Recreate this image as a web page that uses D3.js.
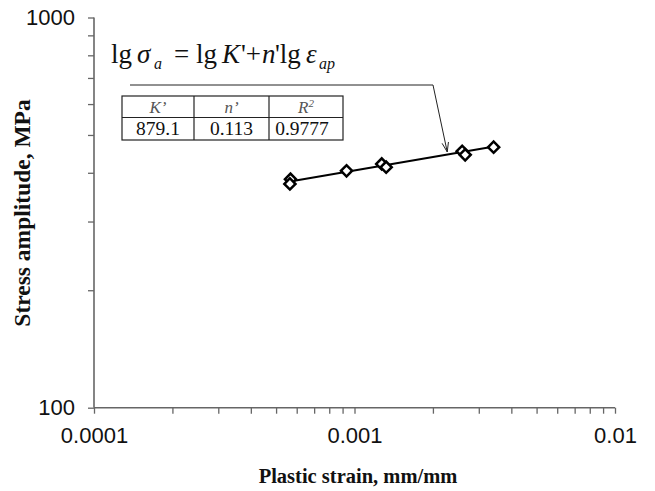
<!DOCTYPE html>
<html>
<head>
<meta charset="utf-8">
<script src="https://cdn.jsdelivr.net/npm/d3@7"></script>
<style>
  html, body { margin: 0; padding: 0; background: #fff; }
  svg { display: block; }
</style>
</head>
<body>
<svg id="chart" width="655" height="491"></svg>
<script>
// ---- data ----
const strain = [0.000568, 0.000565, 0.000932, 0.001272, 0.001323, 0.00259, 0.00266, 0.00342];
const stress = [385.1, 374.6, 404.6, 421.4, 413.4, 453.9, 444.6, 465.3];
const fitStrain = [0.00058, 0.00344];
const fitStress = [381.3, 466.9];
const xMajorTicks = [0.0001, 0.001, 0.01];
const xTickLabels = ["0.0001", "0.001", "0.01"];
const yMajorTicks = [100, 1000];
const yTickLabels = ["100", "1000"];
const tableHeader = ["K\u2019", "n\u2019", "R2"];
const tableValues = ["879.1", "0.113", "0.9777"];
const arrowTarget = [0.00227, 452.4];

const svg = d3.select("#chart");
const x = d3.scaleLog().domain([0.0001, 0.01]).range([94, 615]);
const y = d3.scaleLog().domain([100, 1000]).range([407.7, 17.5]);

// all ticks (major + minor)
const xTicks = [];
[0.0001, 0.001].forEach(d => { for (let k = 1; k < 10; k++) xTicks.push(d * k); });
xTicks.push(0.01);
const yTicks = d3.range(1, 11).map(k => k * 100);

const axisColor = "#666";
const xAxis = d3.axisBottom(x).tickValues(xTicks).tickSize(6).tickPadding(14)
  .tickFormat(d => { const i = xMajorTicks.findIndex(v => Math.abs(v - d) / v < 1e-9); return i >= 0 ? xTickLabels[i] : ""; });
const yAxis = d3.axisLeft(y).tickValues(yTicks).tickSize(6).tickPadding(13)
  .tickFormat(d => { const i = yMajorTicks.indexOf(Math.round(d)); return i >= 0 ? yTickLabels[i] : ""; });

const gx = svg.append("g").attr("transform", `translate(0,${y(100)})`).call(xAxis);
const gy = svg.append("g").attr("transform", `translate(${x(0.0001)},0)`).call(yAxis);
[gx, gy].forEach(g => {
  g.select(".domain").attr("stroke", axisColor).attr("stroke-width", 1.6);
  g.selectAll(".tick line").attr("stroke", axisColor).attr("stroke-width", 1.3);
  g.selectAll(".tick text").attr("fill", "#111").attr("font-size", null)
    .style("font-family", "'Liberation Sans', Arial, sans-serif").style("font-size", "22px");
});
gx.attr("font-size", null); gy.attr("font-size", null);
gx.select(".domain").attr("d", `M${x(0.0001)},0H${x(0.01)}`);
gy.select(".domain").attr("d", `M0,${y(1000)}V${y(100)}`);

// axis titles
svg.append("text").attr("x", 358).attr("y", 483).attr("text-anchor", "middle")
  .style("font-family", "'Liberation Serif', 'Times New Roman', serif").style("font-size", "20.5px").style("font-weight", "bold").attr("fill", "#111")
  .text("Plastic strain, mm/mm");
svg.append("text").attr("transform", "translate(30,213) rotate(-90)").attr("text-anchor", "middle")
  .style("font-family", "'Liberation Serif', 'Times New Roman', serif").style("font-size", "23.5px").style("font-weight", "bold").attr("fill", "#111")
  .text("Stress amplitude, MPa");

// fit line
const line = d3.line().x(d => x(d[0])).y(d => y(d[1]));
svg.append("path").datum(fitStrain.map((s, i) => [s, fitStress[i]]))
  .attr("d", line).attr("fill", "none").attr("stroke", "#000").attr("stroke-width", 2);

// markers
const sym = d3.symbol().type(d3.symbolSquare).size(62);
svg.append("g").selectAll("path").data(strain.map((s, i) => [s, stress[i]])).join("path")
  .attr("d", sym)
  .attr("transform", d => `translate(${x(d[0])},${y(d[1])}) rotate(45)`)
  .attr("fill", "#fff").attr("stroke", "#000").attr("stroke-width", 2.5);

// equation
const serif = "'Liberation Serif', 'Times New Roman', serif";
const eq = svg.append("text").attr("y", 63)
  .style("font-family", serif).style("font-size", "27px").attr("fill", "#111");
eq.append("tspan").attr("x", 111).text("lg");
eq.append("tspan").attr("x", 137).style("font-style", "italic").text("\u03C3");
eq.append("tspan").attr("x", 154).attr("dy", 6).style("font-style", "italic").style("font-size", "16px").text("a");
eq.append("tspan").attr("x", 174).attr("dy", -6).text("=");
eq.append("tspan").attr("x", 196).text("lg");
eq.append("tspan").attr("x", 222).style("font-style", "italic").text("K");
eq.append("tspan").attr("x", 241).text("'+");
eq.append("tspan").attr("x", 262).style("font-style", "italic").text("n");
eq.append("tspan").attr("x", 275).text("'lg");
eq.append("tspan").attr("x", 306).style("font-style", "italic").text("\u03B5");
eq.append("tspan").attr("x", 319).attr("dy", 6).style("font-style", "italic").style("font-size", "16px").text("ap");

// arrow annotation
const tip = [x(arrowTarget[0]), y(arrowTarget[1])];
const bend = [433, 85];
svg.append("path").attr("d", `M130,85H${bend[0]}L${tip[0]},${tip[1]}`)
  .attr("fill", "none").attr("stroke", "#222").attr("stroke-width", 1);
const ang = Math.atan2(tip[1] - bend[1], tip[0] - bend[0]);
const ah = 10, aw = 0.33;
svg.append("path")
  .attr("d", `M${tip[0] - ah * Math.cos(ang - aw)},${tip[1] - ah * Math.sin(ang - aw)}L${tip[0]},${tip[1]}L${tip[0] - ah * Math.cos(ang + aw)},${tip[1] - ah * Math.sin(ang + aw)}`)
  .attr("fill", "none").attr("stroke", "#222").attr("stroke-width", 1);

// table
const colX = [122, 194, 269, 343];
const rowY = [96, 117.5, 140];
const tg = svg.append("g");
tg.append("rect").attr("x", colX[0]).attr("y", rowY[0]).attr("width", colX[3] - colX[0]).attr("height", rowY[2] - rowY[0])
  .attr("fill", "#fff").attr("stroke", "#222").attr("stroke-width", 1.2);
tg.append("line").attr("x1", colX[0]).attr("x2", colX[3]).attr("y1", rowY[1]).attr("y2", rowY[1]).attr("stroke", "#222").attr("stroke-width", 1.2);
[colX[1], colX[2]].forEach(cx => tg.append("line").attr("x1", cx).attr("x2", cx).attr("y1", rowY[0]).attr("y2", rowY[2]).attr("stroke", "#222").attr("stroke-width", 1.2));
tableHeader.forEach((h, i) => {
  const t = tg.append("text").attr("x", (colX[i] + colX[i + 1]) / 2).attr("y", 113).attr("text-anchor", "middle")
    .style("font-family", serif).style("font-size", "17px").style("font-style", "italic").attr("fill", "#555");
  if (h === "R2") { t.append("tspan").text("R"); t.append("tspan").attr("dy", -6).style("font-size", "11px").text("2"); }
  else t.text(h);
});
tableValues.forEach((v, i) => {
  tg.append("text").attr("x", (colX[i] + colX[i + 1]) / 2 - (i === 2 ? 4 : 0)).attr("y", 134.5).attr("text-anchor", "middle")
    .style("font-family", serif).style("font-size", "19.5px").attr("fill", "#111").text(v);
});
</script>
</body>
</html>
